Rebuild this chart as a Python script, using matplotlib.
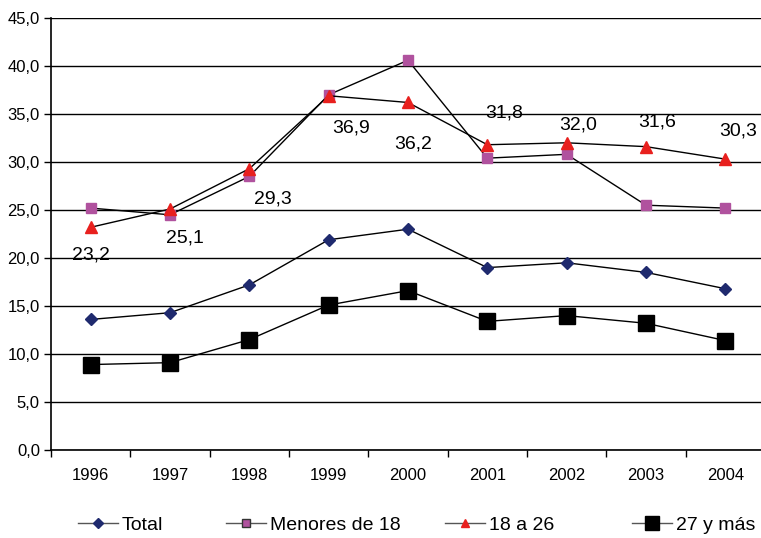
import matplotlib
matplotlib.use("Agg")
import matplotlib.pyplot as plt
import numpy as np

years = ["1996", "1997", "1998", "1999", "2000", "2001", "2002", "2003", "2004"]
total = [13.6, 14.3, 17.2, 21.9, 23.0, 19.0, 19.5, 18.5, 16.8]
menores = [25.2, 24.5, 28.5, 37.0, 40.6, 30.4, 30.8, 25.5, 25.2]
de18a26 = [23.2, 25.1, 29.3, 36.9, 36.2, 31.8, 32.0, 31.6, 30.3]
mas27 = [8.9, 9.1, 11.5, 15.1, 16.6, 13.4, 14.0, 13.2, 11.4]
series_names = ["Total", "Menores de 18", "18 a 26", "27 y más"]
yticks = [0, 5, 10, 15, 20, 25, 30, 35, 40, 45]

# label offsets in points (dx, dy) for the 18 a 26 values
label_offsets = [(0, -20), (11, -21), (17, -22), (16, -23), (4, -30),
                 (12, 23), (8, 13), (8, 18), (9, 20)]
# legend entry left edges (figure px)
legend_x = [78, 226, 445, 632]

fam = ["Liberation Sans", "DejaVu Sans"]

fig = plt.figure(figsize=(7.61, 5.38), dpi=100)
ax = fig.add_axes([51/761, 1-450/538, 1-51/761, (450-18)/538])

x = np.arange(len(years))
styles = [
    dict(marker="D", ms=6, mfc="#1F2A6E", mec="#1F2A6E", zorder=3),
    dict(marker="s", ms=7, mfc="#B0529E", mec="#B0529E", zorder=3),
    dict(marker="^", ms=9, mfc="#E8201E", mec="#E8201E", zorder=4),
    dict(marker="s", ms=11, mfc="black", mec="black", zorder=3),
]
legend_styles = [
    dict(marker="D", ms=5, mfc="#1F2A6E", mec="#1F2A6E"),
    dict(marker="s", ms=6, mfc="#B0529E", mec="#333333"),
    dict(marker="^", ms=6, mfc="#E8201E", mec="#E8201E"),
    dict(marker="s", ms=10, mfc="black", mec="black"),
]
for vals, st in zip([total, menores, de18a26, mas27], styles):
    ax.plot(x, vals, color="black", lw=1, **st)

for xi, v, (dx, dy) in zip(x, de18a26, label_offsets):
    ax.annotate(f"{v:.1f}".replace(".", ","), (xi, v), xytext=(dx, dy), textcoords="offset points",
                ha="center", va="center", fontsize=14, family=fam, color="black")

ax.set_ylim(0, 45)
ax.set_xlim(-0.5, 8.45)
ax.set_yticks(yticks)
ax.set_yticklabels([f"{t:.1f}".replace(".", ",") for t in yticks], family=fam, fontsize=12)
ax.set_xticks(x)
ax.set_xticklabels(years, family=fam, fontsize=12)
ax.set_xticks(np.arange(-0.5, 8.5, 1), minor=True)
ax.tick_params(axis="x", which="major", length=0, pad=13)
ax.tick_params(axis="x", which="minor", length=5, width=1, color="black")
ax.tick_params(axis="y", which="major", length=5, width=1, color="black", pad=3)

ax.grid(axis="y", color="black", lw=1)
ax.set_axisbelow(True)
for s in ["top", "right"]:
    ax.spines[s].set_visible(False)
for s in ["left", "bottom"]:
    ax.spines[s].set_color("black")
    ax.spines[s].set_linewidth(1.2)

for name, st, lx in zip(series_names, legend_styles, legend_x):
    h, = ax.plot([], [], color="#555555", lw=1, **st)
    fig.legend([h], [name], loc="center left", bbox_to_anchor=(lx/761, 1-525/538),
               frameon=False, prop={"family": fam, "size": 14}, handlelength=2.05,
               handletextpad=0.2, borderpad=0, borderaxespad=0)

fig.savefig("out.png", dpi=100)
